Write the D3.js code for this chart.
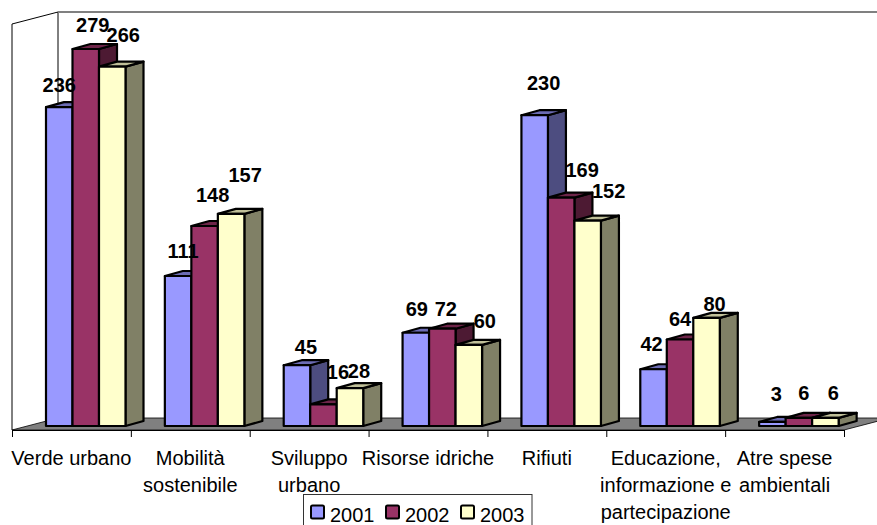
<!DOCTYPE html>
<html>
<head>
<meta charset="utf-8">
<script src="https://cdn.jsdelivr.net/npm/d3@7"></script>
<style>
html,body{margin:0;padding:0;background:#fff}
text{font-family:"Liberation Sans",Arial,sans-serif;fill:#000}
</style>
</head>
<body>
<script>
// Spending by category and year
const categories = [
  ["Verde urbano"],
  ["Mobilità","sostenibile"],
  ["Sviluppo","urbano"],
  ["Risorse idriche"],
  ["Rifiuti"],
  ["Educazione,","informazione e","partecipazione"],
  ["Atre spese","ambientali"]
];
const years = ["2001","2002","2003"];
const values2001 = [236,111,45,69,230,42,3];
const values2002 = [279,148,16,72,169,64,6];
const values2003 = [266,157,28,60,152,80,6];
const seriesValues = [values2001,values2002,values2003];

// Per-label nudges away from the default spot above each bar
const labelShiftX = [[0,5,9,1,9,-2,4],[7,8,14.5,3.5,21,0,5],[11,14,9,16,21,8,8]];
const labelShiftY = [[-15,-18,-11,-17,-25,-18,-21],[-17,-24,-25,-13,-21,-14,-18],[-25,-32,-10,-17,-23,-7,-18]];

const fills = ["#9999ff","#993366","#ffffcc"];
const sides = ["#4d4d80","#4d1a33","#808066"];
const tops  = ["#6b6bb3","#6e2549","#c0c099"];

const W = 877, H = 525;
const svg = d3.select("body").append("svg").attr("width",W).attr("height",H).style("display","block");

const x = d3.scaleBand().domain(d3.range(categories.length)).range([12,844]).padding(0);
const y = d3.scaleLinear().domain([0,279]).range([426,49]);
const barW = 26.5, inset = 34;
const barX = d3.scaleLinear().domain([0,1]).range([inset,inset+barW]);
const depthX = 18, depthY = -5;
const axisY = 430, wallDX = 46, wallDY = -12;
const poly = p => p.map(q=>q.join(",")).join(" ");

// Walls and floor of the 3D box
svg.append("polygon").attr("points",poly([[12,axisY],[844,axisY],[844+wallDX,axisY+wallDY],[12+wallDX,axisY+wallDY]]))
  .attr("fill","#808080").attr("stroke","#000").attr("stroke-width",0.8);
svg.append("path").attr("d",`M12,${axisY}V24L${12+wallDX},12V${axisY+wallDY}`).attr("fill","none").attr("stroke","#000").attr("stroke-width",1);
svg.append("line").attr("x1",12+wallDX).attr("x2",W).attr("y1",12).attr("y2",12).attr("stroke","#808080").attr("stroke-width",2);

// Category axis with ticks at slot boundaries
const axis = d3.axisBottom(d3.scaleLinear().domain([0,categories.length]).range([12,844]))
  .ticks(categories.length).tickSize(7).tickFormat("");
svg.append("g").attr("transform",`translate(0,${axisY})`).call(axis)
  .call(g=>g.selectAll("path,line").attr("stroke","#000").attr("stroke-width",1));

// Bars, painted back to front across each group
const bars = svg.append("g").attr("stroke","#000").attr("stroke-width",2.2).attr("stroke-linejoin","round");
categories.forEach((c,g)=>{
  seriesValues.forEach((vals,s)=>{
    const x0 = x(g)+barX(s), x1 = x0+barW, y0 = y(0), y1 = y(vals[g]);
    const b = bars.append("g");
    b.append("polygon").attr("fill",sides[s]).attr("points",poly([[x1,y0],[x1+depthX,y0+depthY],[x1+depthX,y1+depthY],[x1,y1]]));
    b.append("polygon").attr("fill",tops[s]).attr("points",poly([[x0,y1],[x0+depthX,y1+depthY],[x1+depthX,y1+depthY],[x1,y1]]));
    b.append("rect").attr("fill",fills[s]).attr("x",x0).attr("y",y1).attr("width",barW).attr("height",y0-y1);
  });
});

// Value labels
seriesValues.forEach((vals,s)=>{
  svg.append("g").selectAll("text").data(vals).join("text")
    .attr("x",(d,g)=>x(g)+barX(s)+barW/2+labelShiftX[s][g])
    .attr("y",(d,g)=>y(d)+labelShiftY[s][g])
    .attr("text-anchor","middle").attr("font-weight","bold").attr("font-size",20)
    .text(d=>d);
});

// Category labels
const catG = svg.append("g").attr("font-size",20).attr("text-anchor","middle");
categories.forEach((lines,g)=>{
  const cx = x(g)+x.bandwidth()/2;
  const t = catG.append("text");
  lines.forEach((l,i)=>t.append("tspan").attr("x",cx).attr("y",465+i*27).text(l));
});

// Legend
const legend = svg.append("g");
legend.append("rect").attr("x",303.5).attr("y",494.5).attr("width",228.5).attr("height",40).attr("fill","#fff").attr("stroke","#333").attr("stroke-width",1);
years.forEach((yr,i)=>{
  const lx = 311+i*75;
  legend.append("rect").attr("x",lx).attr("y",505.5).attr("width",13).attr("height",13).attr("rx",1.5).attr("fill",fills[i]).attr("stroke","#000").attr("stroke-width",2);
  legend.append("text").attr("x",lx+19).attr("y",522).attr("font-size",20).text(yr);
});
</script>
</body>
</html>
